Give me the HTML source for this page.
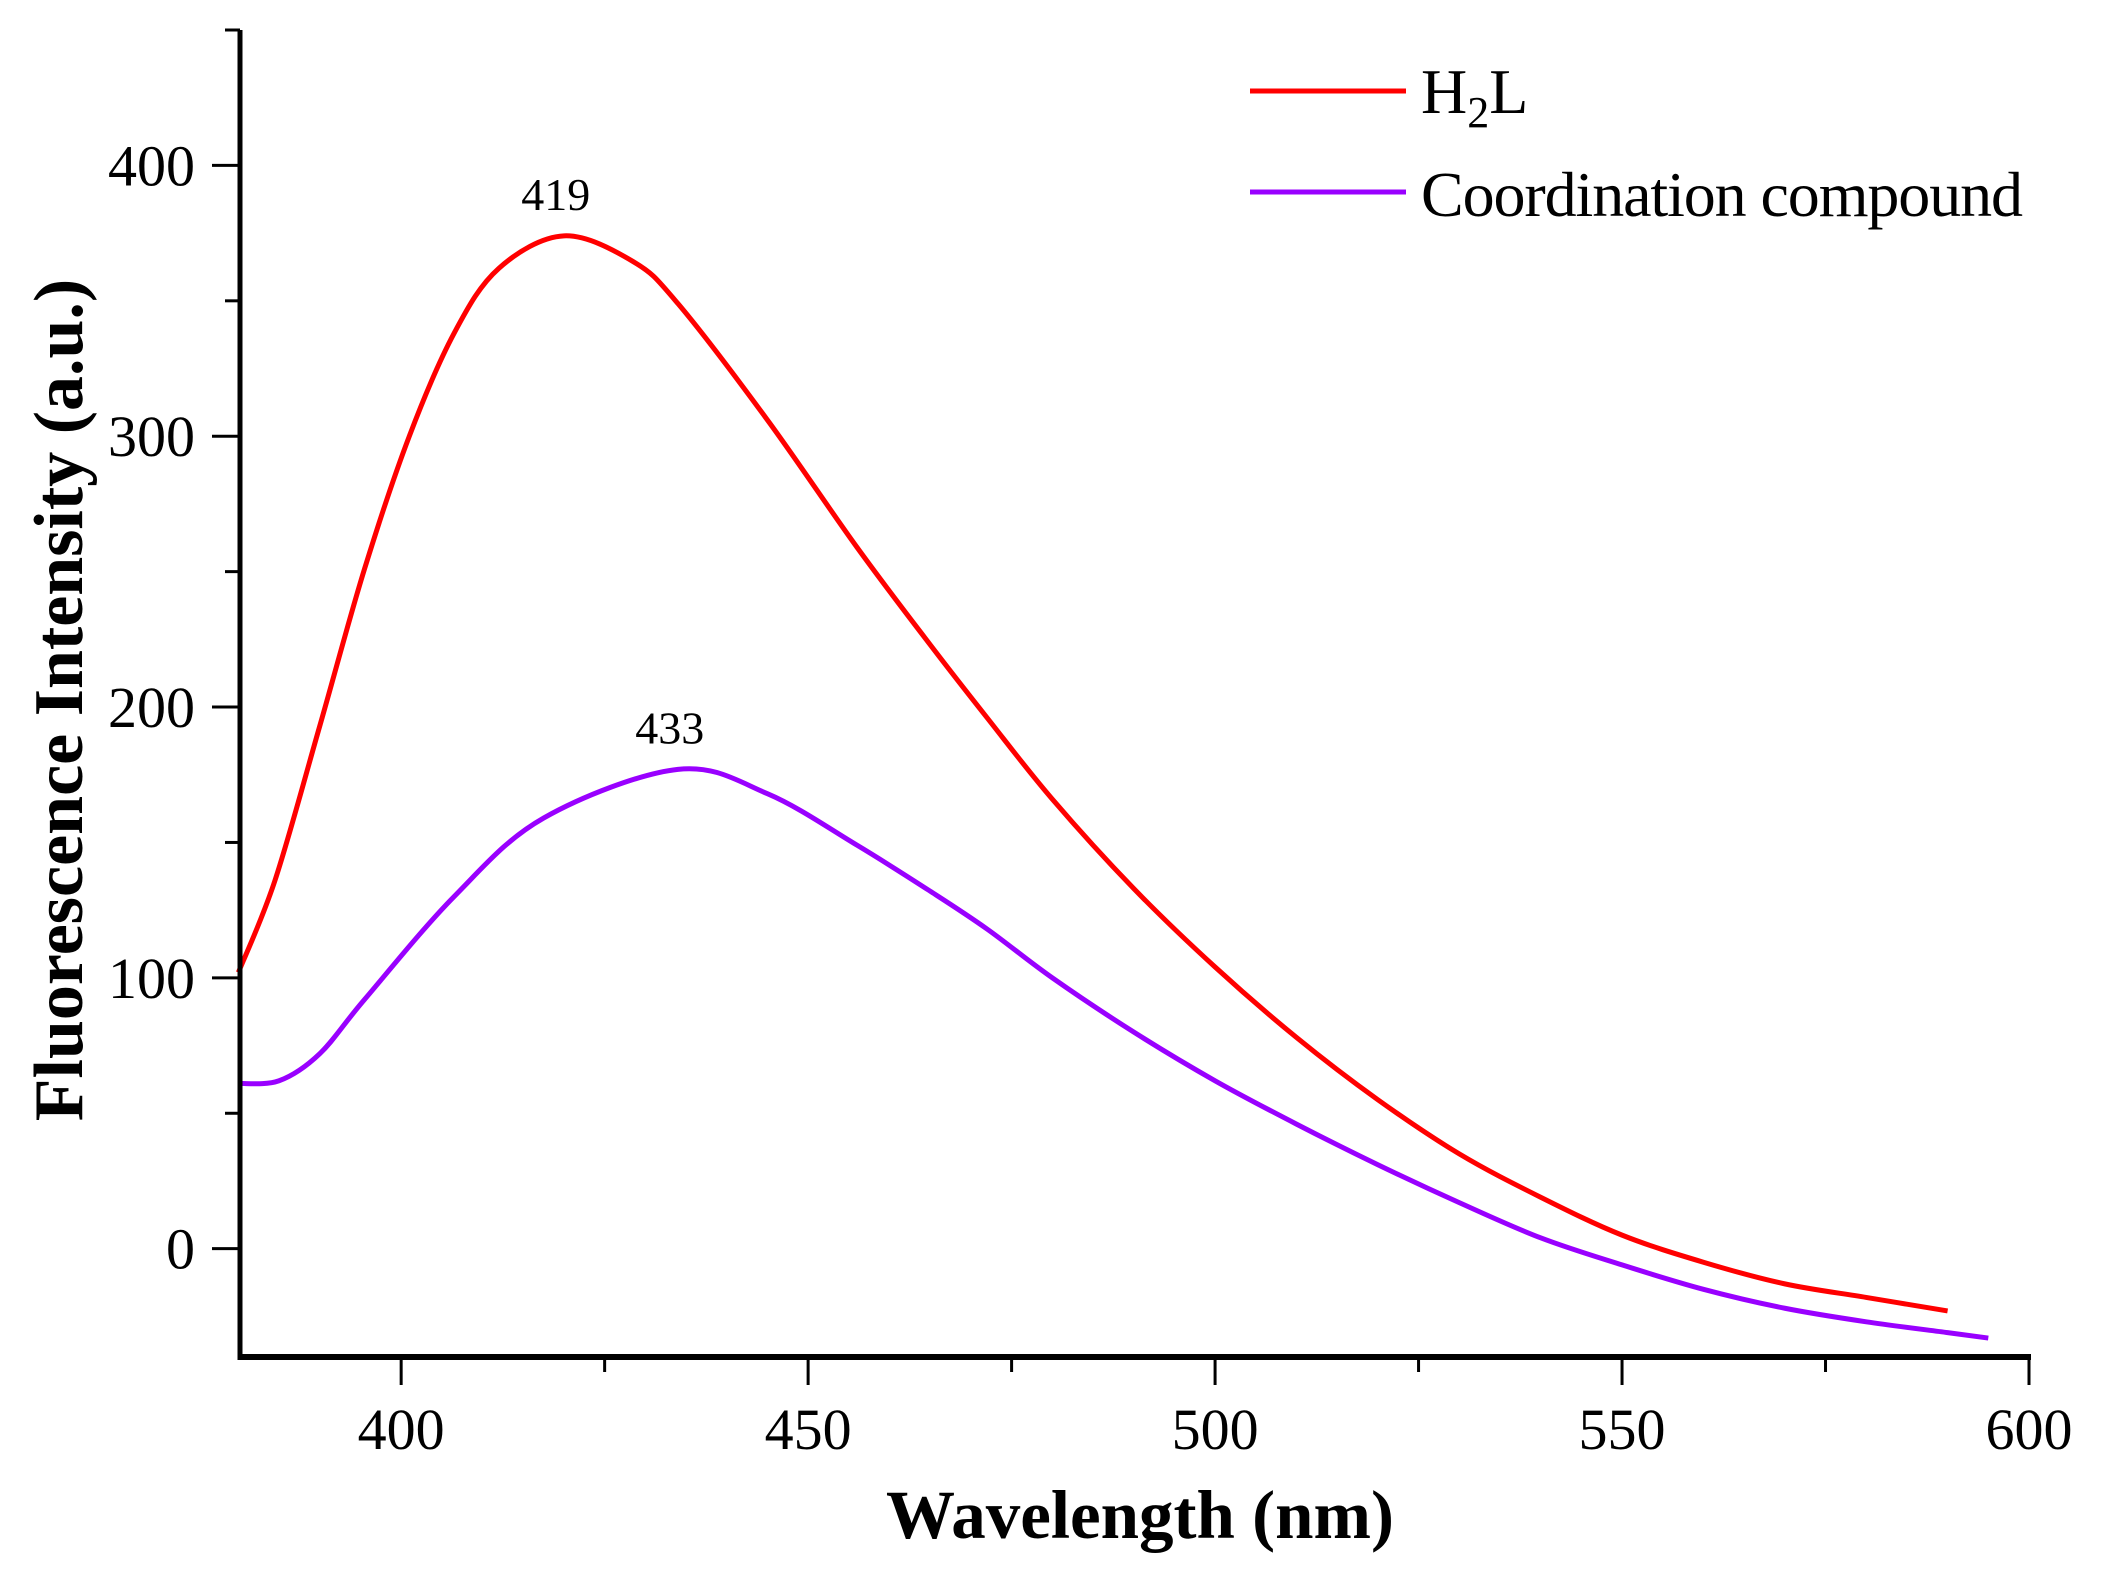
<!DOCTYPE html>
<html><head><meta charset="utf-8"><style>
html,body{margin:0;padding:0;background:#fff;}
svg{display:block;font-family:"Liberation Serif",serif;}
</style></head><body>
<svg id="chart" width="2102" height="1571" viewBox="0 0 2102 1571">
<g id="plot"></g>
<g id="axes"></g>
<g>
<line x1="1250" y1="91" x2="1406" y2="91" stroke="#ff0000" stroke-width="5"/>
<text x="1421" y="113" font-size="64">H<tspan font-size="44" dy="14">2</tspan><tspan dy="-14">L</tspan></text>
<line x1="1250" y1="192" x2="1406" y2="192" stroke="#9900ff" stroke-width="5"/>
<text x="1421" y="216" font-size="64" textLength="602">Coordination compound</text>
</g>
<text x="82" y="700" font-size="70" font-weight="bold" text-anchor="middle" transform="rotate(-90 82 700)">Fluorescence Intensity (a.u.)</text>
<text x="1140" y="1538" font-size="69" font-weight="bold" text-anchor="middle">Wavelength (nm)</text>
</svg>
<script>
const xs = [380,384.5,390,395.5,401,406.5,412,420,428.5,434,445,456,465,472,480,490,500,510,520,530,540,550,560,570,580,590];
const h2l = [102,136,193,251,300,338,362,374,364.5,349,306,259,223,196,166,133,104,78,55,35,19,5,-5,-13,-18,-23];
const xs2 = [380,385,390,395.5,406.5,417.5,434,445,456,465,472,480,490,500,510,520,530,540,550,560,570,580,590,595];
const coord = [61,62,72,92,130,159,177,168,149,132,118,100,80,62,46,31,17,4,-6,-15,-22,-27,-31,-33];
const xTicks = [400,450,500,550,600];
const yTicks = [0,100,200,300,400];
const peaks = [[419,374,"419"],[433,177,"433"]];

const X0=380.2, X1=600, PX0=240, PX1=2029;
const Y0=-40, Y1=450, PY0=1357, PY1=30;
const sx = v => PX0 + (v-X0)/(X1-X0)*(PX1-PX0);
const sy = v => PY0 - (v-Y0)/(Y1-Y0)*(PY0-PY1);
const NS="http://www.w3.org/2000/svg";
const plot=document.getElementById('plot'), axes=document.getElementById('axes');
function mk(tag,attrs,parent){const e=document.createElementNS(NS,tag);for(const k in attrs)e.setAttribute(k,attrs[k]);parent.appendChild(e);return e;}
function path(xv,yv){
  const p=xv.map((x,i)=>[sx(x),sy(yv[i])]);
  let d=`M${p[0][0]},${p[0][1]}`;
  for(let i=0;i<p.length-1;i++){
    const a=p[Math.max(0,i-1)],b=p[i],c=p[i+1],e=p[Math.min(p.length-1,i+2)];
    d+=` C${b[0]+(c[0]-a[0])/6},${b[1]+(c[1]-a[1])/6} ${c[0]-(e[0]-b[0])/6},${c[1]-(e[1]-b[1])/6} ${c[0]},${c[1]}`;
  }
  return d;
}
const l1=mk('path',{d:path(xs,h2l),fill:'none',stroke:'#ff0000','stroke-width':5},plot);


const l2=mk('path',{d:path(xs2,coord),fill:'none',stroke:'#9900ff','stroke-width':5},plot);


peaks.forEach(pk=>{
  const t=mk('text',{x:sx(pk[0]),y:sy(pk[1])-26,'font-size':46,'text-anchor':'middle'},plot);
  t.textContent=pk[2];
  
  
});
const ya=mk('line',{x1:PX0,y1:PY1,x2:PX0,y2:PY0+3,stroke:'#000','stroke-width':5},axes);


const xa=mk('line',{x1:PX0-2,y1:PY0,x2:PX1+2,y2:PY0,stroke:'#000','stroke-width':6},axes);


for(let v=400;v<=600;v+=25){
  const major=v%50===0;
  const t=mk('line',{x1:sx(v),y1:PY0,x2:sx(v),y2:PY0+(major?28:15),stroke:'#000','stroke-width':3},axes);
  
  
}
xTicks.forEach(v=>{
  const t=mk('text',{x:sx(v),y:PY0+92,'font-size':58,'text-anchor':'middle'},axes);
  t.textContent=v;
  
  
});
for(let v=0;v<=450;v+=50){
  const major=v%100===0;
  const t=mk('line',{x1:PX0-(major?28:15),y1:sy(v),x2:PX0,y2:sy(v),stroke:'#000','stroke-width':3},axes);
  
  
}
yTicks.forEach(v=>{
  const t=mk('text',{x:PX0-45,y:sy(v)+20,'font-size':58,'text-anchor':'end'},axes);
  t.textContent=v;
  
  
});
</script>
</body></html>
